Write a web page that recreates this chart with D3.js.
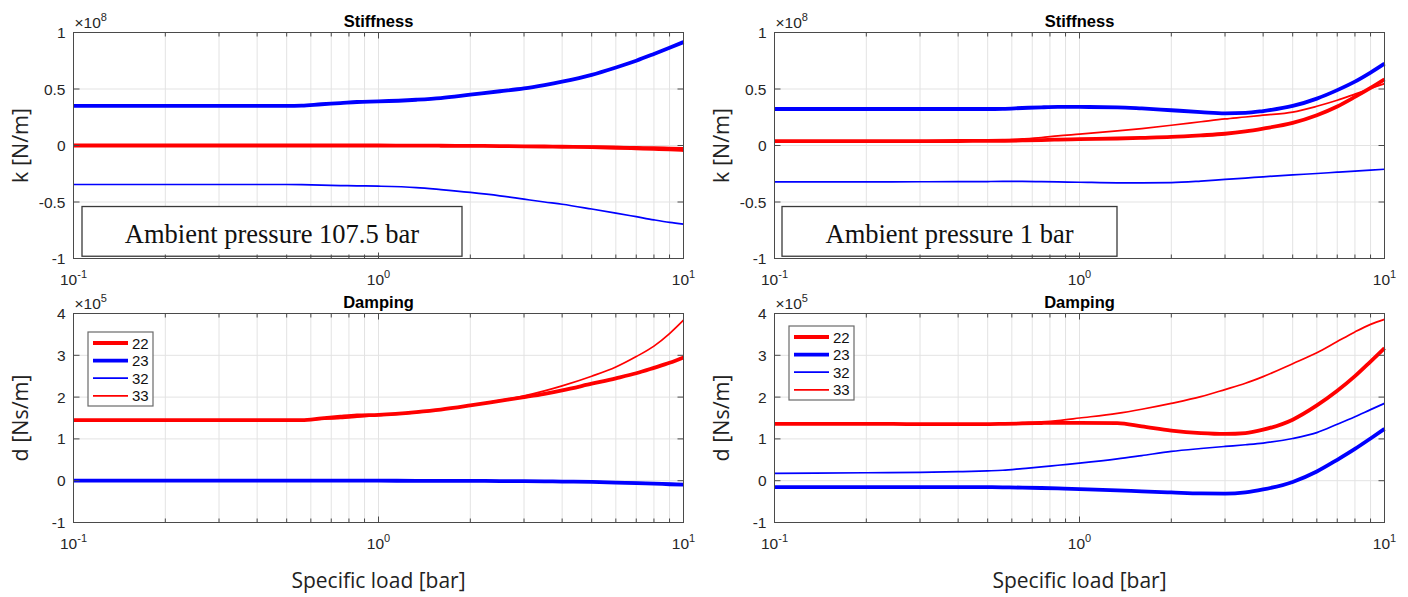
<!DOCTYPE html>
<html><head><meta charset="utf-8">
<script src="https://cdn.jsdelivr.net/npm/d3@7"></script>
<style>body{margin:0;background:#fff}</style></head>
<body><svg id="c" width="1408" height="597"></svg>
<script>
// ---- shared x values (specific load, bar) ----
const xs = [0.1,0.2,0.3,0.4,0.5,0.56,0.65,0.75,0.85,1,1.33,1.6,2,2.5,3,3.5,4,5,6,7,8,9,10];
const seriesNames = ["22","23","32","33"];
const xTickLabels = [["10","-1"],["10","0"],["10","1"]];
const kTicks = [-1,-0.5,0,0.5,1];
const kTickLabels = ["-1","-0.5","0","0.5","1"];
const dTicks = [-1,0,1,2,3,4];
const dTickLabels = ["-1","0","1","2","3","4"];

// ---- Stiffness, ambient 107.5 bar (x1e8 N/m) ----
const kHigh22 = [0,0,0,0,0,0,0,0,0,0,-0.001,-0.002,-0.003,-0.005,-0.007,-0.009,-0.011,-0.015,-0.02,-0.025,-0.03,-0.035,-0.04];
const kHigh23 = [0.35,0.35,0.35,0.35,0.35,0.352,0.365,0.375,0.385,0.39,0.405,0.42,0.45,0.48,0.505,0.535,0.565,0.625,0.69,0.75,0.81,0.865,0.915];
const kHigh32 = [-0.345,-0.345,-0.345,-0.345,-0.345,-0.346,-0.35,-0.355,-0.357,-0.36,-0.372,-0.39,-0.415,-0.445,-0.475,-0.5,-0.52,-0.562,-0.598,-0.63,-0.658,-0.68,-0.695];
const kHigh33 = [0,0,0,0,0,0,0,0,0,0,-0.001,-0.001,-0.002,-0.003,-0.004,-0.005,-0.006,-0.008,-0.01,-0.012,-0.015,-0.018,-0.02];

// ---- Stiffness, ambient 1 bar (x1e8 N/m) ----
const kLow22 = [0.038,0.038,0.039,0.04,0.041,0.042,0.045,0.048,0.052,0.056,0.062,0.068,0.076,0.09,0.104,0.125,0.15,0.2,0.268,0.345,0.43,0.51,0.586];
const kLow23 = [0.323,0.323,0.323,0.323,0.323,0.325,0.332,0.338,0.341,0.341,0.338,0.328,0.312,0.296,0.285,0.288,0.305,0.35,0.415,0.49,0.565,0.645,0.724];
const kLow32 = [-0.322,-0.322,-0.321,-0.32,-0.319,-0.318,-0.318,-0.32,-0.322,-0.325,-0.33,-0.33,-0.328,-0.315,-0.3,-0.288,-0.277,-0.26,-0.248,-0.236,-0.226,-0.218,-0.21];
const kLow33 = [0.04,0.04,0.041,0.042,0.045,0.048,0.058,0.07,0.085,0.1,0.129,0.15,0.179,0.21,0.235,0.252,0.268,0.295,0.347,0.4,0.455,0.505,0.548];

// ---- Damping, ambient 107.5 bar (x1e5 Ns/m) ----
const dHigh22 = [1.45,1.45,1.45,1.45,1.45,1.45,1.49,1.53,1.56,1.575,1.64,1.7,1.8,1.91,2.0,2.08,2.16,2.32,2.45,2.57,2.7,2.82,2.95];
const dHigh23 = [0,0,0,0,0,0,0,0,0,0,-0.002,-0.004,-0.005,-0.008,-0.01,-0.015,-0.02,-0.03,-0.045,-0.06,-0.07,-0.085,-0.095];
const dHigh32 = [0.005,0.005,0.005,0.005,0.005,0.005,0.005,0.005,0.005,0.004,0.003,0.002,0.001,-0.002,-0.004,-0.008,-0.012,-0.02,-0.032,-0.045,-0.056,-0.07,-0.082];
const dHigh33 = [1.45,1.45,1.45,1.45,1.45,1.45,1.47,1.49,1.52,1.56,1.63,1.7,1.8,1.92,2.03,2.15,2.27,2.5,2.72,2.97,3.22,3.52,3.84];

// ---- Damping, ambient 1 bar (x1e5 Ns/m) ----
const dLow22 = [1.36,1.36,1.355,1.355,1.355,1.36,1.37,1.38,1.385,1.385,1.375,1.3,1.2,1.14,1.12,1.14,1.22,1.46,1.8,2.15,2.5,2.85,3.17];
const dLow23 = [-0.155,-0.155,-0.155,-0.155,-0.155,-0.158,-0.165,-0.175,-0.185,-0.2,-0.23,-0.255,-0.28,-0.305,-0.31,-0.28,-0.21,-0.03,0.22,0.5,0.76,1.01,1.24];
const dLow32 = [0.175,0.19,0.2,0.215,0.235,0.25,0.29,0.33,0.37,0.42,0.52,0.6,0.7,0.77,0.82,0.86,0.9,1.01,1.15,1.35,1.53,1.7,1.85];
const dLow33 = [1.36,1.36,1.36,1.36,1.36,1.37,1.39,1.41,1.44,1.5,1.61,1.71,1.85,2.01,2.18,2.33,2.49,2.8,3.06,3.33,3.56,3.74,3.86];

const styles = {"22":{c:"#ff0000",w:3.8},"23":{c:"#0000ff",w:3.8},"32":{c:"#0000ff",w:1.7},"33":{c:"#ff0000",w:1.7}};
const drawOrder = ["33","32","22","23"];

const svg = d3.select("#c");
const axisCol = "#4a4a4a", txtCol = "#262626", gridCol = "#e3e3e3";
const tickFont = "Liberation Sans, Arial, sans-serif";

function panel(cfg){
  const x = d3.scaleLog().domain([0.1,10]).range([cfg.x0,cfg.x1]);
  const y = d3.scaleLinear().domain(cfg.yDom).range([cfg.y1,cfg.y0]);
  const g = svg.append("g");
  const minor = [];
  [0.1,1].forEach(b=>{for(let m=1;m<10;m++) minor.push(b*m);});
  minor.push(10);
  g.selectAll(".vg").data(minor.filter(v=>v>0.1&&v<10)).enter().append("line")
    .attr("x1",d=>x(d)).attr("x2",d=>x(d)).attr("y1",cfg.y0).attr("y2",cfg.y1)
    .attr("stroke",gridCol).attr("stroke-width",1);
  g.selectAll(".hg").data(cfg.ticks.slice(1,-1)).enter().append("line")
    .attr("x1",cfg.x0).attr("x2",cfg.x1).attr("y1",d=>y(d)).attr("y2",d=>y(d))
    .attr("stroke",gridCol).attr("stroke-width",1);
  if(cfg.note){
    const n = cfg.note;
    g.append("rect").attr("x",n.x).attr("y",y(-0.54)).attr("width",n.w).attr("height",y(-0.98)-y(-0.54))
      .attr("fill","#fff").attr("stroke","#3a3a3a").attr("stroke-width",1.3);
    g.append("text").attr("x",n.x+n.w/2).attr("y",y(-0.86)).attr("text-anchor","middle")
      .attr("font-family","Liberation Serif, Times New Roman, serif").attr("font-size",26.5).attr("fill","#111")
      .text(n.text);
  }
  const line = d3.line().x((d,i)=>x(xs[i])).y(d=>y(d)).curve(d3.curveMonotoneX);
  drawOrder.forEach(k=>{
    g.append("path").attr("d",line(cfg.data[k])).attr("fill","none")
      .attr("stroke",styles[k].c).attr("stroke-width",styles[k].w).attr("stroke-linejoin","round");
  });
  g.append("rect").attr("x",cfg.x0).attr("y",cfg.y0).attr("width",cfg.x1-cfg.x0).attr("height",cfg.y1-cfg.y0)
    .attr("fill","none").attr("stroke",axisCol).attr("stroke-width",1);
  minor.forEach(v=>{
    const len = (v===0.1||v===1||v===10)?6:4;
    g.append("line").attr("x1",x(v)).attr("x2",x(v)).attr("y1",cfg.y1).attr("y2",cfg.y1-len).attr("stroke",axisCol);
    g.append("line").attr("x1",x(v)).attr("x2",x(v)).attr("y1",cfg.y0).attr("y2",cfg.y0+len).attr("stroke",axisCol);
  });
  cfg.ticks.forEach((t,i)=>{
    g.append("line").attr("x1",cfg.x0).attr("x2",cfg.x0+6).attr("y1",y(t)).attr("y2",y(t)).attr("stroke",axisCol);
    g.append("line").attr("x1",cfg.x1).attr("x2",cfg.x1-6).attr("y1",y(t)).attr("y2",y(t)).attr("stroke",axisCol);
    g.append("text").attr("x",cfg.x0-8).attr("y",y(t)+5.5).attr("text-anchor","end")
      .attr("font-family",tickFont).attr("font-size",15.5).attr("fill",txtCol).text(cfg.tickLabels[i]);
  });
  [0.1,1,10].forEach((v,i)=>{
    const t = g.append("text").attr("x",x(v)).attr("y",cfg.y1+26).attr("text-anchor","middle")
      .attr("font-family",tickFont).attr("font-size",15.5).attr("fill",txtCol);
    t.append("tspan").text(xTickLabels[i][0]);
    t.append("tspan").attr("dy",-7).attr("font-size",11).text(xTickLabels[i][1]);
  });
  const m = g.append("text").attr("x",cfg.x0+1).attr("y",cfg.y0-5).attr("font-family",tickFont)
    .attr("font-size",15.5).attr("fill",txtCol);
  m.append("tspan").text("\u00d710");
  m.append("tspan").attr("dy",-7).attr("font-size",11).text(cfg.mult);
  g.append("text").attr("x",(cfg.x0+cfg.x1)/2).attr("y",cfg.y0-6).attr("text-anchor","middle")
    .attr("font-family",tickFont).attr("font-weight","bold").attr("font-size",16.5).attr("fill","#000").text(cfg.title);
  g.append("text").attr("transform",`translate(${cfg.x0-46},${(cfg.y0+cfg.y1)/2}) rotate(-90)`)
    .attr("text-anchor","middle").attr("font-family","Open Sans, sans-serif").attr("font-size",21.5)
    .attr("fill","#222").text(cfg.ylabel);
  if(cfg.legend){
    const L = cfg.legend;
    g.append("rect").attr("x",L.x).attr("y",L.y).attr("width",65).attr("height",74)
      .attr("fill","#fff").attr("stroke","#6a6a6a").attr("stroke-width",1.2);
    seriesNames.forEach((k,i)=>{
      const yy = L.y+11+i*17.6;
      g.append("line").attr("x1",L.x+5).attr("x2",L.x+40).attr("y1",yy).attr("y2",yy)
        .attr("stroke",styles[k].c).attr("stroke-width",styles[k].w);
      g.append("text").attr("x",L.x+44).attr("y",yy+5.5).attr("font-family",tickFont).attr("font-size",15)
        .attr("fill","#111").text(k);
    });
  }
}

const L0 = 73.5, L1 = 683.5, R0 = 774.5, R1 = 1384.5;
const T0 = 32.5, T1 = 258.5, B0 = 313.5, B1 = 522.5;

panel({x0:L0,x1:L1,y0:T0,y1:T1,yDom:[-1,1],ticks:kTicks,tickLabels:kTickLabels,title:"Stiffness",mult:"8",ylabel:"k [N/m]",
  data:{"22":kHigh22,"23":kHigh23,"32":kHigh32,"33":kHigh33},note:{x:82,w:380,text:"Ambient pressure 107.5 bar"}});
panel({x0:R0,x1:R1,y0:T0,y1:T1,yDom:[-1,1],ticks:kTicks,tickLabels:kTickLabels,title:"Stiffness",mult:"8",ylabel:"k [N/m]",
  data:{"22":kLow22,"23":kLow23,"32":kLow32,"33":kLow33},note:{x:782,w:335,text:"Ambient pressure 1 bar"}});
panel({x0:L0,x1:L1,y0:B0,y1:B1,yDom:[-1,4],ticks:dTicks,tickLabels:dTickLabels,title:"Damping",mult:"5",ylabel:"d [Ns/m]",
  data:{"22":dHigh22,"23":dHigh23,"32":dHigh32,"33":dHigh33},legend:{x:88,y:332}});
panel({x0:R0,x1:R1,y0:B0,y1:B1,yDom:[-1,4],ticks:dTicks,tickLabels:dTickLabels,title:"Damping",mult:"5",ylabel:"d [Ns/m]",
  data:{"22":dLow22,"23":dLow23,"32":dLow32,"33":dLow33},legend:{x:789,y:326}});

[[L0,L1],[R0,R1]].forEach(([a,b])=>{
  svg.append("text").attr("x",(a+b)/2).attr("y",588).attr("text-anchor","middle")
    .attr("font-family","Open Sans, sans-serif").attr("font-size",21).attr("fill","#222").text("Specific load [bar]");
});
</script></body></html>
